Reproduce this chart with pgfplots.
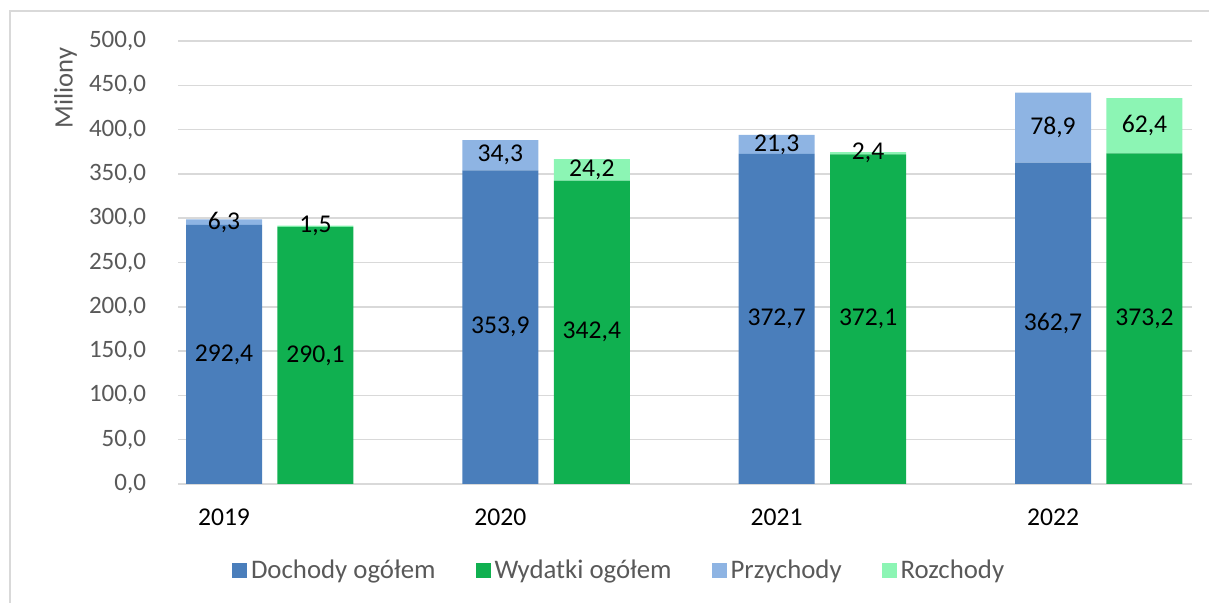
\documentclass[border=0pt]{standalone}
\usepackage{pgfplots}
\pgfplotsset{compat=1.18}
\usepackage{fontspec}
\setmainfont{Carlito}
\definecolor{doch}{HTML}{4A7EBB}
\definecolor{wyd}{HTML}{10B050}
\definecolor{przy}{HTML}{8EB4E3}
\definecolor{roz}{HTML}{8CF5B4}
\definecolor{gridgray}{HTML}{D9D9D9}
\definecolor{txtgray}{HTML}{595959}
\pgfplotsset{
  sqlegend/.style={legend image code/.code={\fill[##1] (0pt,-3.75pt) rectangle (7.5pt,3.75pt);}},
  common/.style={
    at={(89pt,59.5pt)}, anchor=south west,
    scale only axis, width=507pt, height=221.5pt,
    xmin=-0.1665, xmax=3.503, ymin=0, ymax=500,
    ybar stacked, bar width=0.275, clip=false,
    visualization depends on=rawy \as \rawy,
    nodes near coords={\pgfmathprintnumber[fixed,precision=1,zerofill,use comma,assume math mode=true]{\rawy}},
    every node near coord/.append style={anchor=center, font=\fontsize{12.8}{15}\selectfont, text=black},
  }
}
\begin{document}
\begin{tikzpicture}
\useasboundingbox (0,0) rectangle (604.5pt,301.5pt);
\draw[gridgray, line width=0.75pt] (5pt,0) -- (5pt,296pt) -- (604.5pt,296pt);
\begin{axis}[common,
  axis line style={draw=none}, major tick length=0pt,
  ytick={0,50,...,500}, ymajorgrids,
  grid style={draw=gridgray, line width=0.75pt},
  yticklabel style={font=\fontsize{12.5}{14}\selectfont, text=txtgray, xshift=-12.5pt,
    /pgf/number format/.cd, fixed, precision=1, zerofill, use comma, assume math mode=true},
  xtick={0,1,2,3}, xticklabels={2019,2020,2021,2022},
  xticklabel style={font=\fontsize{12.8}{15}\selectfont, text=black, yshift=-9pt},
]
\addplot[fill=doch, draw=none] coordinates {(0,292.4) (1,353.9) (2,372.7) (3,362.7)};
\addplot[fill=przy, draw=none] coordinates {(0,6.3) (1,34.3) (2,21.3) (3,78.9)};
\node[rotate=90, text=txtgray, font=\fontsize{13.3}{15}\selectfont] at (rel axis cs:-0.111,0.894) {Miliony};
\end{axis}
\begin{axis}[common, hide axis,
  legend columns=4,
  legend style={at={(0.436,-0.196)}, anchor=center, draw=none, fill=none,
    font=\fontsize{13.4}{15}\selectfont, text=txtgray,
    /tikz/every even column/.append style={column sep=18pt}},
  legend cell align=left,
]
\addlegendimage{fill=doch, draw=none, sqlegend}
\addlegendimage{fill=wyd, draw=none, sqlegend}
\addlegendimage{fill=przy, draw=none, sqlegend}
\addlegendimage{fill=roz, draw=none, sqlegend}
\addplot[fill=wyd, draw=none] coordinates {(0.331,290.1) (1.331,342.4) (2.331,372.1) (3.331,373.2)};
\addplot[fill=roz, draw=none] coordinates {(0.331,1.5) (1.331,24.2) (2.331,2.4) (3.331,62.4)};
\legend{Dochody ogółem, Wydatki ogółem, Przychody, Rozchody}
\end{axis}
\end{tikzpicture}
\end{document}
